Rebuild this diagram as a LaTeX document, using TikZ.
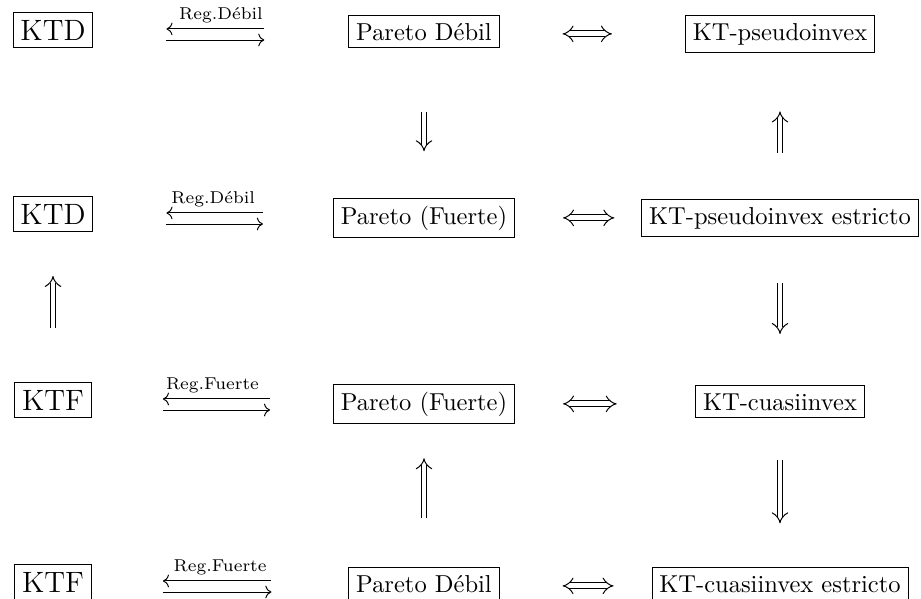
\documentclass[tikz,border=0pt]{standalone}
\usepackage{tikz}
\usetikzlibrary{arrows.meta,positioning,calc}

\tikzset{
  box/.style={draw, thin, anchor=base, inner sep=3pt},
  reg/.style={font=\scriptsize, inner sep=0pt, anchor=base, yshift=4pt},
  dbl/.style={thin, double, double distance=2pt},
  impl/.style={dbl, -{Implies[scale=1.35]}},
  iff/.style={dbl, {Implies[scale=1.35]}-{Implies[scale=1.35]}}
}

\begin{document}
\begin{tikzpicture}[x=0.01435cm, y=-0.01435cm]
\useasboundingbox (0,0) rectangle (921,598);

% boxes
\node[box, font=\large] (ktd1) at (53,40) {KTD};
\node[box] (pd1) at (424,40) {Pareto Débil};
\node[box] (ktp1) at (780,40) {KT-pseudoinvex};

\node[box, font=\large] (ktd2) at (53,224) {KTD};
\node[box] (pf2) at (424,224) {Pareto (Fuerte)};
\node[box] (ktpe2) at (780,224) {KT-pseudoinvex estricto};

\node[box, font=\large] (ktf3) at (53,410) {KTF};
\node[box] (pf3) at (424,410) {Pareto (Fuerte)};
\node[box] (ktc3) at (780,410) {KT-cuasiinvex};

\node[box, font=\large] (ktf4) at (53,592) {KTF};
\node[box] (pd4) at (424,592) {Pareto Débil};
\node[box] (ktce4) at (780,592) {KT-cuasiinvex estricto};

% regularity arrows
\draw[thin, <-, shorten <=29.8pt, shorten >=34.3pt] ([yshift=4.5pt]ktd1.base east) -- ([yshift=4.5pt]pd1.base west)
  node[reg, midway] {Reg.Débil};
\draw[thin, ->, shorten <=29.8pt, shorten >=34.3pt] (ktd1.base east) -- (pd1.base west);

\draw[thin, <-, shorten <=29.8pt, shorten >=28.6pt] ([yshift=4.5pt]ktd2.base east) -- ([yshift=4.5pt]pf2.base west)
  node[reg, midway] {Reg.Débil};
\draw[thin, ->, shorten <=29.8pt, shorten >=28.6pt] (ktd2.base east) -- (pf2.base west);

\draw[thin, <-, shorten <=29pt, shorten >=25.7pt] ([yshift=4.5pt]ktf3.base east) -- ([yshift=4.5pt]pf3.base west)
  node[reg, midway] {Reg.Fuerte};
\draw[thin, ->, shorten <=29pt, shorten >=25.7pt] (ktf3.base east) -- (pf3.base west);

\draw[thin, <-, shorten <=29pt, shorten >=31.4pt] ([yshift=4.5pt]ktf4.base east) -- ([yshift=4.5pt]pd4.base west)
  node[reg, midway] {Reg.Fuerte};
\draw[thin, ->, shorten <=29pt, shorten >=31.4pt] (ktf4.base east) -- (pd4.base west);

% equivalences
\draw[iff, shorten <=25.7pt, shorten >=29.8pt] ([yshift=2.5pt]pd1.base east) -- ([yshift=2.5pt]ktp1.base west);
\draw[iff, shorten <=19.6pt, shorten >=11pt] ([yshift=2.5pt]pf2.base east) -- ([yshift=2.5pt]ktpe2.base west);
\draw[iff, shorten <=19.6pt, shorten >=32pt] ([yshift=2.5pt]pf3.base east) -- ([yshift=2.5pt]ktc3.base west);
\draw[iff, shorten <=25.7pt, shorten >=15.5pt] ([yshift=2.5pt]pd4.base east) -- ([yshift=2.5pt]ktce4.base west);

% implications
\draw[impl, shorten <=26pt, shorten >=19pt] (pd1.south) -- (pf2.north);
\draw[impl, shorten <=19pt, shorten >=24pt] (ktpe2.north) -- (ktp1.south);
\draw[impl, shorten <=19pt, shorten >=21pt] (ktpe2.south) -- (ktc3.north);
\draw[impl, shorten <=17pt, shorten >=18pt] (ktc3.south) -- (ktce4.north);
\draw[impl, shorten <=20pt, shorten >=14pt] (pd4.north) -- (pf3.south);
\draw[impl, shorten <=22pt, shorten >=18pt] (ktf3.north) -- (ktd2.south);
\end{tikzpicture}
\end{document}
